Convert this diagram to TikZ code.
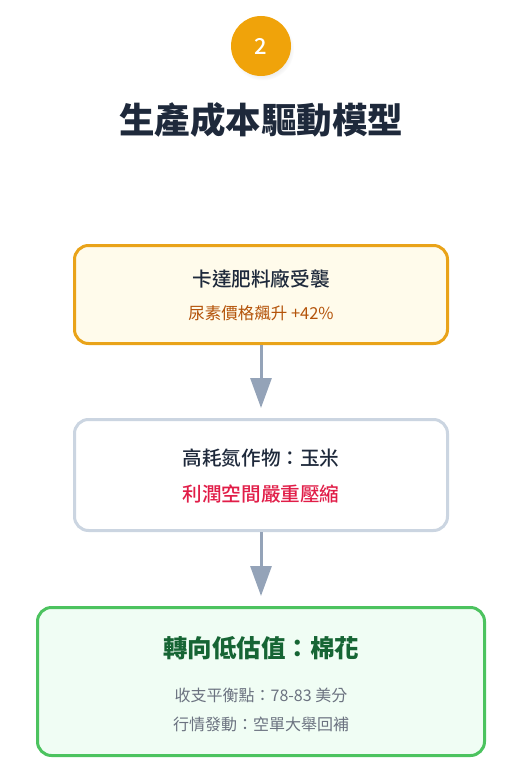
\documentclass[tikz,border=0pt]{standalone}
\usepackage{fontspec}
\setmainfont{Noto Sans CJK TC}
\newfontfamily\mediumfont{Noto Sans CJK TC Medium}
\usetikzlibrary{arrows.meta,shadows}

\definecolor{badgeorange}{HTML}{F0A30A}
\definecolor{titledark}{HTML}{1E293B}
\definecolor{shockborder}{HTML}{E9A319}
\definecolor{shockfill}{HTML}{FFFBEB}
\definecolor{shocktext}{HTML}{B45309}
\definecolor{cornborder}{HTML}{CBD5E1}
\definecolor{corntext}{HTML}{E11D48}
\definecolor{cottonborder}{HTML}{4CC35F}
\definecolor{cottonfill}{HTML}{F0FDF4}
\definecolor{cottontext}{HTML}{166534}
\definecolor{greytext}{HTML}{6B7280}
\definecolor{arrowgrey}{HTML}{94A3B8}

\begin{document}
\begin{tikzpicture}[
	x=1pt, y=-1pt,
	card/.style={draw, rounded corners=14pt, line width=3pt, inner sep=0pt},
	heading/.style={font=\fontsize{19.6}{23}\mediumfont, text=titledark},
	small/.style={font=\fontsize{16}{19}\selectfont, text=greytext},
	flow/.style={arrowgrey, line width=3pt, -{Triangle[width=21pt,length=30pt]}, shorten >=10pt}
	]
	
	\useasboundingbox (0,0) rectangle (506,773);
	
	%-----------------------
	% Heights
	%-----------------------
	\def\hbadge{46}
	\def\htitle{120}
	\def\hshock{294.5}
	\def\hcorn{475}
	\def\hcotton{681.5}
	
	%-----------------------
	% Badge and title
	%-----------------------
	\node[circle, fill=badgeorange, minimum size=60pt, inner sep=0pt,
	  circular drop shadow={opacity=0.12, shadow yshift=-3pt, shadow scale=1.05},
	  text=white, font=\fontsize{22}{26}\mediumfont] (badge) at (261,\hbadge) {2};
	\node[font=\fontsize{35.5}{40}\selectfont\bfseries, text=titledark] (title) at (261,\htitle) {生產成本驅動模型};
	
	%-----------------------
	% Box 1: fertiliser shock
	%-----------------------
	\node[card, draw=shockborder, fill=shockfill, minimum width=373pt, minimum height=98pt] (shock) at (261,\hshock) {};
	\node[heading] (shock-t) at (261,279) {卡達肥料廠受襲};
	\node[font=\fontsize{16.5}{19}\selectfont, text=shocktext] (shock-s) at (261,313) {尿素價格飆升 +42\%};
	
	%-----------------------
	% Box 2: corn
	%-----------------------
	\node[card, draw=cornborder, fill=white, minimum width=373pt, minimum height=111pt] (corn) at (261,\hcorn) {};
	\node[heading] (corn-t) at (261,458) {高耗氮作物：玉米};
	\node[heading, text=corntext] (corn-s) at (261,494) {利潤空間嚴重壓縮};
	
	%-----------------------
	% Box 3: cotton
	%-----------------------
	\node[card, draw=cottonborder, fill=cottonfill, minimum width=447pt, minimum height=148pt] (cotton) at (261,\hcotton) {};
	\node[font=\fontsize{24.5}{28}\selectfont\bfseries, text=cottontext] (cotton-t) at (261,648) {轉向低估值：棉花};
	\node[small] (cotton-a) at (261,695) {收支平衡點：78-83 美分};
	\node[small] (cotton-b) at (261,724) {行情發動：空單大舉回補};
	
	%-----------------------
	% Connections
	%-----------------------
	\draw[flow] (shock.south) -- (corn.north);
	\draw[flow] (corn.south) -- (cotton.north);
	
\end{tikzpicture}
\end{document}
